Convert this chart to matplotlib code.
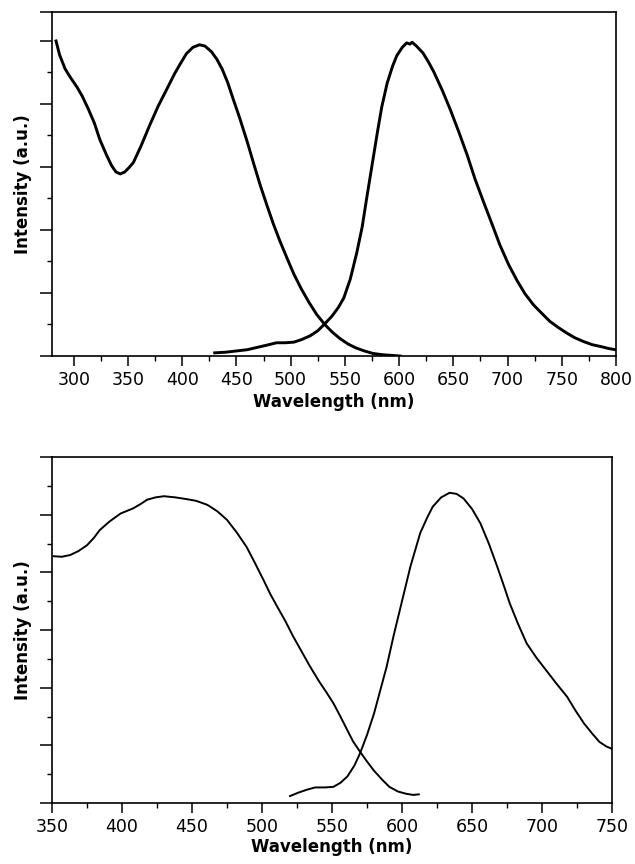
import matplotlib
matplotlib.use("Agg")
import matplotlib.pyplot as plt
from matplotlib.ticker import MultipleLocator, FixedLocator

# ---- data: top panel ----
top_abs_x = [283.7, 287, 292, 297, 303, 308, 313.5, 319, 324, 330, 335, 339, 343, 347, 351, 355,
             362, 370, 378, 386, 393, 398, 404, 410, 416, 421, 427, 432, 437, 442, 447, 453, 460,
             466, 472, 478, 484, 490, 497, 503, 510, 517, 524, 532, 539, 546, 553, 560, 568,
             576, 585, 593, 601]
top_abs_y = [5.00, 4.78, 4.56, 4.42, 4.27, 4.12, 3.92, 3.70, 3.44, 3.20, 3.02, 2.92, 2.89, 2.92, 2.99, 3.07,
             3.33, 3.66, 3.97, 4.24, 4.48, 4.63, 4.80, 4.90, 4.94, 4.92, 4.83, 4.71, 4.55, 4.34, 4.08, 3.78, 3.40,
             3.05, 2.71, 2.40, 2.10, 1.83, 1.54, 1.30, 1.06, 0.85, 0.66, 0.49, 0.37, 0.27, 0.19, 0.13, 0.08,
             0.04, 0.02, 0.01, 0.00]

top_em_x = [430, 440, 450, 460, 470, 480, 487, 495, 503, 510, 518, 525, 532, 538, 544, 549, 555, 561,
            566, 570, 575, 580, 584, 589, 594, 598, 603, 607, 610, 612, 616, 622, 627, 632, 640, 647,
            655, 663, 670, 678, 686, 693, 701, 709, 716, 724, 732, 739, 747, 755, 762, 770, 778, 786,
            793, 799.4]
top_em_y = [0.05, 0.06, 0.08, 0.10, 0.14, 0.18, 0.21, 0.21, 0.22, 0.26, 0.32, 0.40, 0.52, 0.63, 0.77, 0.92,
            1.22, 1.64, 2.05, 2.49, 3.02, 3.55, 3.95, 4.33, 4.60, 4.77, 4.90, 4.97, 4.95, 4.98, 4.92, 4.81,
            4.67, 4.51, 4.21, 3.92, 3.56, 3.18, 2.81, 2.44, 2.08, 1.76, 1.45, 1.19, 0.99, 0.81, 0.67, 0.55,
            0.45, 0.36, 0.29, 0.23, 0.18, 0.15, 0.12, 0.10]

# ---- data: bottom panel ----
bot_abs_x = [351, 357, 363, 369, 375, 380, 384, 391, 399, 408, 413, 418, 424, 430, 438, 446, 453, 461,
             468, 475, 482, 489, 495, 501, 506, 511, 517, 522, 528, 534, 541, 546, 551, 556, 561, 565,
             570, 575, 580, 586, 591, 597, 603, 608, 612]
bot_abs_y = [4.28, 4.27, 4.30, 4.37, 4.47, 4.60, 4.73, 4.88, 5.02, 5.11, 5.18, 5.26, 5.30, 5.32, 5.30, 5.27,
             5.24, 5.17, 5.06, 4.91, 4.69, 4.44, 4.16, 3.87, 3.62, 3.40, 3.14, 2.90, 2.64, 2.38, 2.10, 1.92,
             1.73, 1.50, 1.26, 1.07, 0.89, 0.72, 0.56, 0.40, 0.28, 0.20, 0.16, 0.14, 0.15]

bot_em_x = [520, 526, 532, 538, 545, 551, 556, 561, 566, 570, 575, 580, 585, 589, 594, 599, 606, 613,
            618, 622, 628, 634, 639, 644, 650, 656, 662, 668, 673, 677, 683, 689, 696, 703, 710, 718,
            724, 730, 736, 741, 746, 750]
bot_em_y = [0.12, 0.18, 0.23, 0.27, 0.27, 0.28, 0.35, 0.46, 0.65, 0.86, 1.18, 1.55, 2.00, 2.36, 2.90, 3.40,
            4.10, 4.68, 4.95, 5.14, 5.30, 5.38, 5.36, 5.28, 5.10, 4.85, 4.50, 4.10, 3.75, 3.46, 3.10, 2.77,
            2.52, 2.30, 2.08, 1.84, 1.60, 1.38, 1.20, 1.06, 0.98, 0.94]

xlabel = "Wavelength (nm)"
ylabel = "Intensity (a.u.)"

plt.rcParams['font.family'] = ['DejaVu Sans']

W, H = 635, 864
fig = plt.figure(figsize=(W / 100, H / 100), dpi=100)

def frac_axes(l, t, r, b):
    return fig.add_axes([l / W, 1 - b / H, (r - l) / W, (b - t) / H])

ax1 = frac_axes(52, 12, 616, 356)
ax2 = frac_axes(52, 457, 612, 803)

ax1.plot(top_abs_x, top_abs_y, color='black', lw=2.1, solid_joinstyle='round')
ax1.plot(top_em_x, top_em_y, color='black', lw=2.1, solid_joinstyle='round')
ax2.plot(bot_abs_x, bot_abs_y, color='black', lw=1.4, solid_joinstyle='round')
ax2.plot(bot_em_x, bot_em_y, color='black', lw=1.4, solid_joinstyle='round')

ax1.set_xlim(280, 800)
ax1.set_ylim(0, 5.46)
ax2.set_xlim(350, 750)
ax2.set_ylim(0, 6)

for ax, ytop in ((ax1, 5.46), (ax2, 6)):
    ax.xaxis.set_major_locator(MultipleLocator(50))
    ax.xaxis.set_minor_locator(MultipleLocator(25))
    majors = [0, 1, 2, 3, 4, 5] + ([ytop] if ytop != 6 else [6])
    ax.yaxis.set_major_locator(FixedLocator(majors))
    ax.yaxis.set_minor_locator(FixedLocator([0.5, 1.5, 2.5, 3.5, 4.5] + ([5.5] if ytop >= 6 else [])))
    ax.tick_params(axis='both', which='major', direction='out', length=7, width=1.1,
                   labelsize=12.5, pad=4, colors='black')
    ax.tick_params(axis='both', which='minor', direction='out', length=3.5, width=1.0)
    ax.tick_params(axis='y', which='both', labelleft=False)
    ax.tick_params(axis='y', which='major', length=9)
    for s in ax.spines.values():
        s.set_linewidth(1.2)
        s.set_color('black')

fig.text(23.5 / W, 1 - 184 / H, ylabel, rotation=90, ha='center', va='center',
         fontsize=12, fontweight='bold')
fig.text(23.5 / W, 1 - 630 / H, ylabel, rotation=90, ha='center', va='center',
         fontsize=12, fontweight='bold')
fig.text(((52 + 616) / 2) / W, 1 - 402 / H, xlabel, ha='center', va='center',
         fontsize=12, fontweight='bold')
fig.text(((52 + 612) / 2) / W, 1 - 847 / H, xlabel, ha='center', va='center',
         fontsize=12, fontweight='bold')

fig.savefig('out.png', dpi=100)
